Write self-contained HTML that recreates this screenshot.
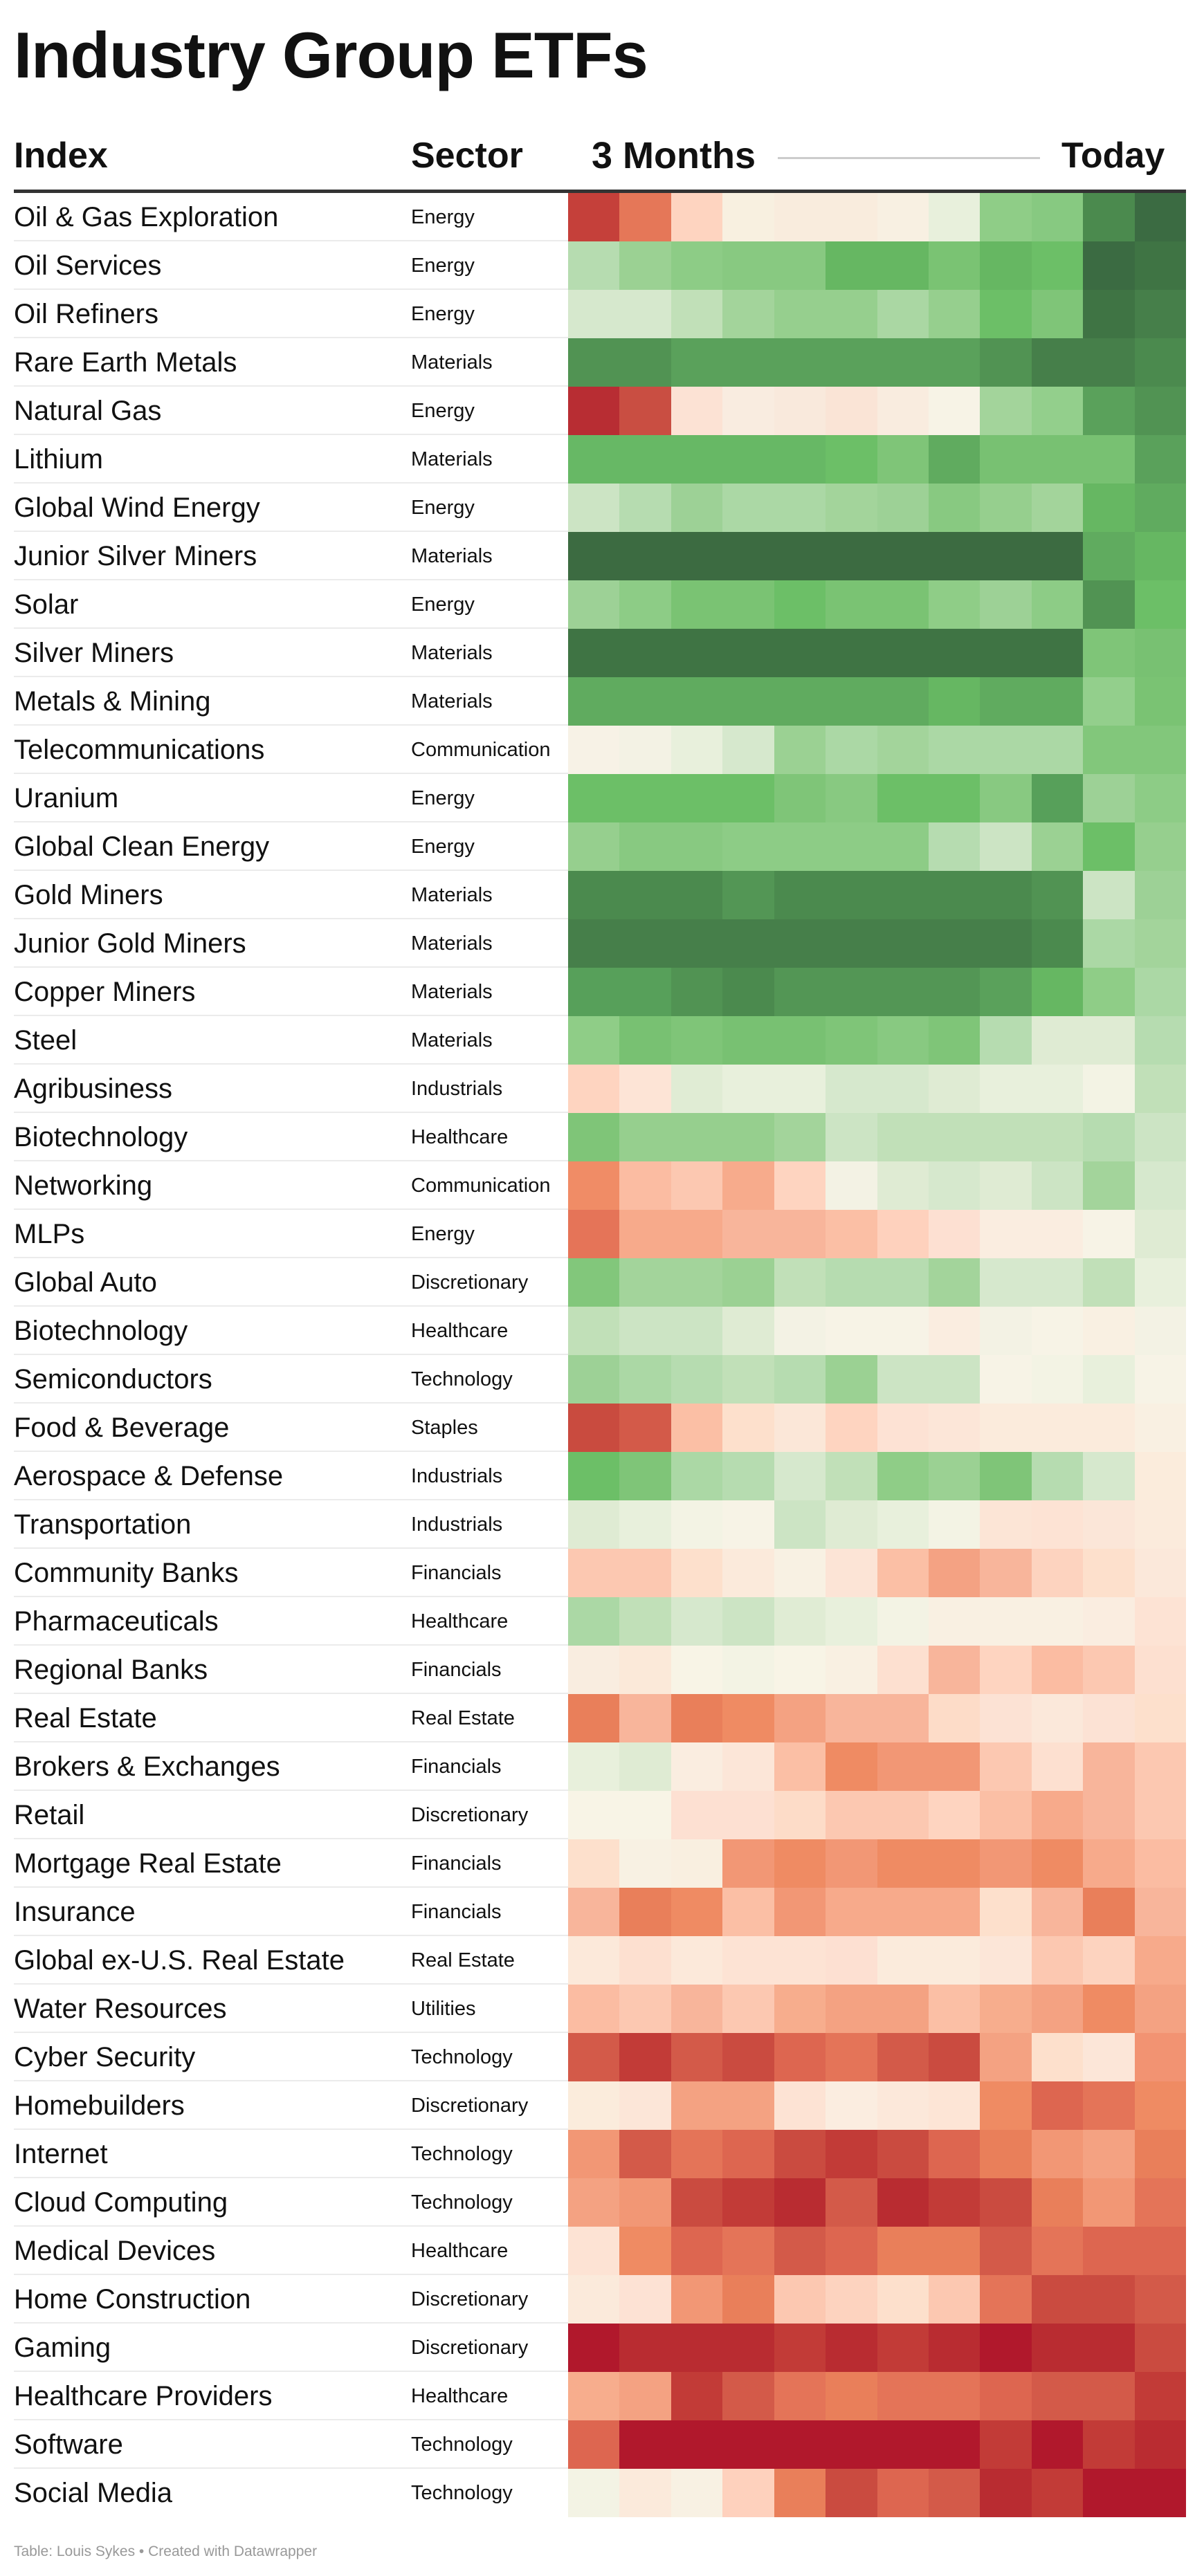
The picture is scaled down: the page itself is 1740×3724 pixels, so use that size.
<!DOCTYPE html>
<html><head><meta charset="utf-8">
<style>
*{margin:0;padding:0;box-sizing:border-box}
body{width:1740px;height:3724px;background:#fff;position:relative;overflow:hidden;font-family:"Liberation Sans",Arial,sans-serif;color:#111}
.t{position:absolute;left:20px;top:20px;font-size:94px;font-weight:bold;line-height:120px;letter-spacing:-1px}
.hd{position:absolute;top:190px;font-size:52px;font-weight:bold;line-height:70px}
.hl{position:absolute;left:1124px;top:227px;width:379px;height:3px;background:#cccccc}
.tl{position:absolute;left:20px;top:274px;width:1694px;height:5px;background:#333}
.r{position:absolute;left:0;width:1740px;height:70px}
.r .n{position:absolute;left:20px;top:0;width:801px;height:70px;line-height:70px;font-size:40px;border-bottom:2px solid #ebebeb}
.r .s{position:absolute;left:594px;top:0;line-height:70px;font-size:29px}
.r .h{position:absolute;left:821px;top:0;width:893px;height:70px;display:flex}
.r .h i{flex:1;height:70px;display:block}
.f{position:absolute;left:20px;top:3677px;font-size:21px;color:#999}
</style></head><body>
<div class="t">Industry Group ETFs</div>
<div class="hd" style="left:20px">Index</div>
<div class="hd" style="left:594px">Sector</div>
<div class="hd" style="left:855px;font-size:54px">3 Months</div>
<div class="hl"></div>
<div class="hd" style="left:1534px">Today</div>
<div class="tl"></div>

<div class="r" style="top:279px"><div class="n">Oil &amp; Gas Exploration</div><div class="s">Energy</div><div class="h"><i style="background:#c5403a"></i><i style="background:#e57758"></i><i style="background:#fed4c0"></i><i style="background:#f8f0e0"></i><i style="background:#f9ecdd"></i><i style="background:#f9ecdd"></i><i style="background:#f8f0e2"></i><i style="background:#e8f0dc"></i><i style="background:#8fcd87"></i><i style="background:#87c981"></i><i style="background:#4b8a4e"></i><i style="background:#3b6b42"></i></div></div>
<div class="r" style="top:349px"><div class="n">Oil Services</div><div class="s">Energy</div><div class="h"><i style="background:#b6dcb0"></i><i style="background:#9bd193"></i><i style="background:#8dcc86"></i><i style="background:#88c981"></i><i style="background:#88c981"></i><i style="background:#66b762"></i><i style="background:#66b762"></i><i style="background:#7ac373"></i><i style="background:#66b762"></i><i style="background:#6cbf67"></i><i style="background:#3b6b42"></i><i style="background:#3f7444"></i></div></div>
<div class="r" style="top:419px"><div class="n">Oil Refiners</div><div class="s">Energy</div><div class="h"><i style="background:#d6e8cd"></i><i style="background:#d6e8cd"></i><i style="background:#c1e0b8"></i><i style="background:#a3d49b"></i><i style="background:#96cf8e"></i><i style="background:#96cf8e"></i><i style="background:#aad7a3"></i><i style="background:#96cf8e"></i><i style="background:#6cbf67"></i><i style="background:#7fc578"></i><i style="background:#3f7444"></i><i style="background:#467f4a"></i></div></div>
<div class="r" style="top:489px"><div class="n">Rare Earth Metals</div><div class="s">Materials</div><div class="h"><i style="background:#519353"></i><i style="background:#519353"></i><i style="background:#5aa15b"></i><i style="background:#5aa15b"></i><i style="background:#5aa15b"></i><i style="background:#5aa15b"></i><i style="background:#5aa15b"></i><i style="background:#5aa15b"></i><i style="background:#519353"></i><i style="background:#467f4a"></i><i style="background:#467f4a"></i><i style="background:#4b8a4e"></i></div></div>
<div class="r" style="top:559px"><div class="n">Natural Gas</div><div class="s">Energy</div><div class="h"><i style="background:#b82d33"></i><i style="background:#c94e42"></i><i style="background:#fce2d4"></i><i style="background:#f9ece0"></i><i style="background:#f9e9dc"></i><i style="background:#fae4d6"></i><i style="background:#f9ecdf"></i><i style="background:#f7f3e6"></i><i style="background:#a3d49b"></i><i style="background:#93cf8c"></i><i style="background:#5aa15b"></i><i style="background:#519353"></i></div></div>
<div class="r" style="top:629px"><div class="n">Lithium</div><div class="s">Materials</div><div class="h"><i style="background:#67b865"></i><i style="background:#67b865"></i><i style="background:#67b865"></i><i style="background:#67b865"></i><i style="background:#67b865"></i><i style="background:#6cbf67"></i><i style="background:#7fc578"></i><i style="background:#60ab5f"></i><i style="background:#78c172"></i><i style="background:#78c172"></i><i style="background:#78c172"></i><i style="background:#5aa15b"></i></div></div>
<div class="r" style="top:699px"><div class="n">Global Wind Energy</div><div class="s">Energy</div><div class="h"><i style="background:#cce4c4"></i><i style="background:#b6dcb0"></i><i style="background:#9dd196"></i><i style="background:#abd8a5"></i><i style="background:#abd8a5"></i><i style="background:#a3d49b"></i><i style="background:#9dd196"></i><i style="background:#88c981"></i><i style="background:#96cf8e"></i><i style="background:#a3d49b"></i><i style="background:#66b762"></i><i style="background:#60ab5f"></i></div></div>
<div class="r" style="top:769px"><div class="n">Junior Silver Miners</div><div class="s">Materials</div><div class="h"><i style="background:#3c6b41"></i><i style="background:#3c6b41"></i><i style="background:#3c6b41"></i><i style="background:#3c6b41"></i><i style="background:#3c6b41"></i><i style="background:#3c6b41"></i><i style="background:#3c6b41"></i><i style="background:#3c6b41"></i><i style="background:#3c6b41"></i><i style="background:#3c6b41"></i><i style="background:#60ab5f"></i><i style="background:#66b762"></i></div></div>
<div class="r" style="top:839px"><div class="n">Solar</div><div class="s">Energy</div><div class="h"><i style="background:#9dd196"></i><i style="background:#8dcc86"></i><i style="background:#7ac373"></i><i style="background:#7ac373"></i><i style="background:#6cbf67"></i><i style="background:#7ac373"></i><i style="background:#7ac373"></i><i style="background:#8fcd87"></i><i style="background:#9dd196"></i><i style="background:#8dcc86"></i><i style="background:#519353"></i><i style="background:#6cbf67"></i></div></div>
<div class="r" style="top:909px"><div class="n">Silver Miners</div><div class="s">Materials</div><div class="h"><i style="background:#3f7444"></i><i style="background:#3f7444"></i><i style="background:#3f7444"></i><i style="background:#3f7444"></i><i style="background:#3f7444"></i><i style="background:#3f7444"></i><i style="background:#3f7444"></i><i style="background:#3f7444"></i><i style="background:#3f7444"></i><i style="background:#3f7444"></i><i style="background:#7fc578"></i><i style="background:#78c172"></i></div></div>
<div class="r" style="top:979px"><div class="n">Metals &amp; Mining</div><div class="s">Materials</div><div class="h"><i style="background:#60ab5f"></i><i style="background:#60ab5f"></i><i style="background:#60ab5f"></i><i style="background:#60ab5f"></i><i style="background:#60ab5f"></i><i style="background:#60ab5f"></i><i style="background:#60ab5f"></i><i style="background:#66b762"></i><i style="background:#60ab5f"></i><i style="background:#60ab5f"></i><i style="background:#93cf8c"></i><i style="background:#7ac373"></i></div></div>
<div class="r" style="top:1049px"><div class="n">Telecommunications</div><div class="s">Communication</div><div class="h"><i style="background:#f7f2e6"></i><i style="background:#f3f2e4"></i><i style="background:#e8f0dc"></i><i style="background:#d6e8cd"></i><i style="background:#9bd193"></i><i style="background:#abd8a5"></i><i style="background:#a3d49b"></i><i style="background:#abd8a5"></i><i style="background:#abd8a5"></i><i style="background:#abd8a5"></i><i style="background:#82c77b"></i><i style="background:#82c77b"></i></div></div>
<div class="r" style="top:1119px"><div class="n">Uranium</div><div class="s">Energy</div><div class="h"><i style="background:#6cbf67"></i><i style="background:#6cbf67"></i><i style="background:#6cbf67"></i><i style="background:#6cbf67"></i><i style="background:#7fc578"></i><i style="background:#88c981"></i><i style="background:#6cbf67"></i><i style="background:#6cbf67"></i><i style="background:#88c981"></i><i style="background:#57a05a"></i><i style="background:#9dd196"></i><i style="background:#8dcc86"></i></div></div>
<div class="r" style="top:1189px"><div class="n">Global Clean Energy</div><div class="s">Energy</div><div class="h"><i style="background:#96cf8e"></i><i style="background:#88c981"></i><i style="background:#88c981"></i><i style="background:#8dcc86"></i><i style="background:#8dcc86"></i><i style="background:#8dcc86"></i><i style="background:#8dcc86"></i><i style="background:#b6dcb0"></i><i style="background:#cce4c4"></i><i style="background:#9bd193"></i><i style="background:#6cbf67"></i><i style="background:#96cf8e"></i></div></div>
<div class="r" style="top:1259px"><div class="n">Gold Miners</div><div class="s">Materials</div><div class="h"><i style="background:#4b8a4e"></i><i style="background:#4b8a4e"></i><i style="background:#4b8a4e"></i><i style="background:#539655"></i><i style="background:#4b8a4e"></i><i style="background:#4b8a4e"></i><i style="background:#4b8a4e"></i><i style="background:#4b8a4e"></i><i style="background:#4b8a4e"></i><i style="background:#519353"></i><i style="background:#cce4c4"></i><i style="background:#9dd196"></i></div></div>
<div class="r" style="top:1329px"><div class="n">Junior Gold Miners</div><div class="s">Materials</div><div class="h"><i style="background:#467f4a"></i><i style="background:#467f4a"></i><i style="background:#467f4a"></i><i style="background:#467f4a"></i><i style="background:#467f4a"></i><i style="background:#467f4a"></i><i style="background:#467f4a"></i><i style="background:#467f4a"></i><i style="background:#467f4a"></i><i style="background:#4b8a4e"></i><i style="background:#abd8a5"></i><i style="background:#a3d49b"></i></div></div>
<div class="r" style="top:1399px"><div class="n">Copper Miners</div><div class="s">Materials</div><div class="h"><i style="background:#57a05a"></i><i style="background:#57a05a"></i><i style="background:#519353"></i><i style="background:#4b8a4e"></i><i style="background:#539655"></i><i style="background:#539655"></i><i style="background:#539655"></i><i style="background:#539655"></i><i style="background:#5aa15b"></i><i style="background:#66b762"></i><i style="background:#8fcd87"></i><i style="background:#abd8a5"></i></div></div>
<div class="r" style="top:1469px"><div class="n">Steel</div><div class="s">Materials</div><div class="h"><i style="background:#8fcd87"></i><i style="background:#78c172"></i><i style="background:#7fc578"></i><i style="background:#78c172"></i><i style="background:#78c172"></i><i style="background:#7fc578"></i><i style="background:#88c981"></i><i style="background:#7fc578"></i><i style="background:#b6dcb0"></i><i style="background:#dfebd3"></i><i style="background:#dfebd3"></i><i style="background:#b6dcb0"></i></div></div>
<div class="r" style="top:1539px"><div class="n">Agribusiness</div><div class="s">Industrials</div><div class="h"><i style="background:#fed4c0"></i><i style="background:#fde4d6"></i><i style="background:#e0ecd4"></i><i style="background:#e8f0dc"></i><i style="background:#e8f0dc"></i><i style="background:#d6e8cd"></i><i style="background:#d6e8cd"></i><i style="background:#dfebd3"></i><i style="background:#e8f0dc"></i><i style="background:#e8f0dc"></i><i style="background:#f3f3e4"></i><i style="background:#c1e0b8"></i></div></div>
<div class="r" style="top:1609px"><div class="n">Biotechnology</div><div class="s">Healthcare</div><div class="h"><i style="background:#7fc578"></i><i style="background:#96cf8e"></i><i style="background:#96cf8e"></i><i style="background:#96cf8e"></i><i style="background:#a3d49b"></i><i style="background:#cce4c4"></i><i style="background:#c1e0b8"></i><i style="background:#c1e0b8"></i><i style="background:#c1e0b8"></i><i style="background:#c1e0b8"></i><i style="background:#b6dcb0"></i><i style="background:#cce4c4"></i></div></div>
<div class="r" style="top:1679px"><div class="n">Networking</div><div class="s">Communication</div><div class="h"><i style="background:#f08c66"></i><i style="background:#fbbca2"></i><i style="background:#fcc8b1"></i><i style="background:#f7ab8c"></i><i style="background:#fed4c0"></i><i style="background:#f3f2e4"></i><i style="background:#dfebd3"></i><i style="background:#d6e8cd"></i><i style="background:#dfebd3"></i><i style="background:#cce4c4"></i><i style="background:#a3d49b"></i><i style="background:#d6e8cd"></i></div></div>
<div class="r" style="top:1749px"><div class="n">MLPs</div><div class="s">Energy</div><div class="h"><i style="background:#e57458"></i><i style="background:#f7aa8b"></i><i style="background:#f7aa8b"></i><i style="background:#f8b59b"></i><i style="background:#f8b59b"></i><i style="background:#fbbfa5"></i><i style="background:#fed1bd"></i><i style="background:#fde0d2"></i><i style="background:#faede0"></i><i style="background:#faede0"></i><i style="background:#f7f3e6"></i><i style="background:#dfebd3"></i></div></div>
<div class="r" style="top:1819px"><div class="n">Global Auto</div><div class="s">Discretionary</div><div class="h"><i style="background:#82c77b"></i><i style="background:#a3d49b"></i><i style="background:#a3d49b"></i><i style="background:#9bd193"></i><i style="background:#c1e0b8"></i><i style="background:#b6dcb0"></i><i style="background:#b6dcb0"></i><i style="background:#a3d49b"></i><i style="background:#d6e8cd"></i><i style="background:#d6e8cd"></i><i style="background:#c1e0b8"></i><i style="background:#e8f0dc"></i></div></div>
<div class="r" style="top:1889px"><div class="n">Biotechnology</div><div class="s">Healthcare</div><div class="h"><i style="background:#c1e0b8"></i><i style="background:#cce4c4"></i><i style="background:#cce4c4"></i><i style="background:#dfebd3"></i><i style="background:#f3f2e4"></i><i style="background:#f7f3e6"></i><i style="background:#f7f3e6"></i><i style="background:#faede0"></i><i style="background:#f3f2e4"></i><i style="background:#f7f3e6"></i><i style="background:#f9f0e2"></i><i style="background:#f3f2e4"></i></div></div>
<div class="r" style="top:1959px"><div class="n">Semiconductors</div><div class="s">Technology</div><div class="h"><i style="background:#9dd196"></i><i style="background:#abd8a5"></i><i style="background:#b6dcb0"></i><i style="background:#c1e0b8"></i><i style="background:#b6dcb0"></i><i style="background:#9bd193"></i><i style="background:#cce4c4"></i><i style="background:#cce4c4"></i><i style="background:#f7f3e6"></i><i style="background:#f3f3e4"></i><i style="background:#e8f0dc"></i><i style="background:#f7f3e6"></i></div></div>
<div class="r" style="top:2029px"><div class="n">Food &amp; Beverage</div><div class="s">Staples</div><div class="h"><i style="background:#c94b3f"></i><i style="background:#d35a49"></i><i style="background:#fbbfa5"></i><i style="background:#fde0cc"></i><i style="background:#fbe7d8"></i><i style="background:#fed4c0"></i><i style="background:#fde2d4"></i><i style="background:#fce6d8"></i><i style="background:#fbebdc"></i><i style="background:#fbebdc"></i><i style="background:#fbebdc"></i><i style="background:#f9f0e2"></i></div></div>
<div class="r" style="top:2099px"><div class="n">Aerospace &amp; Defense</div><div class="s">Industrials</div><div class="h"><i style="background:#6cbf67"></i><i style="background:#7fc578"></i><i style="background:#abd8a5"></i><i style="background:#b6dcb0"></i><i style="background:#d6e8cd"></i><i style="background:#c1e0b8"></i><i style="background:#8fcd87"></i><i style="background:#9bd193"></i><i style="background:#7fc578"></i><i style="background:#b6dcb0"></i><i style="background:#d6e8cd"></i><i style="background:#fbecdc"></i></div></div>
<div class="r" style="top:2169px"><div class="n">Transportation</div><div class="s">Industrials</div><div class="h"><i style="background:#dfebd3"></i><i style="background:#e8f0dc"></i><i style="background:#f3f3e4"></i><i style="background:#f7f3e6"></i><i style="background:#cce4c4"></i><i style="background:#dfebd3"></i><i style="background:#e8f0dc"></i><i style="background:#f3f3e4"></i><i style="background:#fce5d6"></i><i style="background:#fde3d4"></i><i style="background:#fbe6d8"></i><i style="background:#fbebdc"></i></div></div>
<div class="r" style="top:2239px"><div class="n">Community Banks</div><div class="s">Financials</div><div class="h"><i style="background:#fcc8b1"></i><i style="background:#fcc8b1"></i><i style="background:#fde0cc"></i><i style="background:#fbeadb"></i><i style="background:#f8f1e3"></i><i style="background:#fce4d6"></i><i style="background:#fbbfa5"></i><i style="background:#f4a283"></i><i style="background:#f8b59b"></i><i style="background:#fdd3bf"></i><i style="background:#fde0cc"></i><i style="background:#fbe8da"></i></div></div>
<div class="r" style="top:2309px"><div class="n">Pharmaceuticals</div><div class="s">Healthcare</div><div class="h"><i style="background:#abd8a5"></i><i style="background:#c1e0b8"></i><i style="background:#d6e8cd"></i><i style="background:#cce4c4"></i><i style="background:#e0ecd4"></i><i style="background:#e8f0dc"></i><i style="background:#f3f3e4"></i><i style="background:#f9f0e2"></i><i style="background:#f9f0e2"></i><i style="background:#f9f0e2"></i><i style="background:#faede0"></i><i style="background:#fde3d4"></i></div></div>
<div class="r" style="top:2379px"><div class="n">Regional Banks</div><div class="s">Financials</div><div class="h"><i style="background:#f9ede0"></i><i style="background:#fbe9d9"></i><i style="background:#f8f4e6"></i><i style="background:#f3f3e4"></i><i style="background:#f8f4e6"></i><i style="background:#f9f0e2"></i><i style="background:#fde0d0"></i><i style="background:#f8b59b"></i><i style="background:#fed4c0"></i><i style="background:#fbbca2"></i><i style="background:#fcc8b1"></i><i style="background:#fde0d0"></i></div></div>
<div class="r" style="top:2449px"><div class="n">Real Estate</div><div class="s">Real Estate</div><div class="h"><i style="background:#e97f5a"></i><i style="background:#f8b59b"></i><i style="background:#e97f5a"></i><i style="background:#ef8b63"></i><i style="background:#f4a282"></i><i style="background:#f8b59b"></i><i style="background:#f8b59b"></i><i style="background:#fddcc8"></i><i style="background:#fce2d4"></i><i style="background:#fbe8da"></i><i style="background:#fce2d4"></i><i style="background:#fde0cc"></i></div></div>
<div class="r" style="top:2519px"><div class="n">Brokers &amp; Exchanges</div><div class="s">Financials</div><div class="h"><i style="background:#e8f0dc"></i><i style="background:#dfebd3"></i><i style="background:#faede0"></i><i style="background:#fce6d8"></i><i style="background:#fbbfa5"></i><i style="background:#ef8b63"></i><i style="background:#f29775"></i><i style="background:#f29775"></i><i style="background:#fcc8b1"></i><i style="background:#fde0d0"></i><i style="background:#f8b59b"></i><i style="background:#fcc8b1"></i></div></div>
<div class="r" style="top:2589px"><div class="n">Retail</div><div class="s">Discretionary</div><div class="h"><i style="background:#f8f4e6"></i><i style="background:#f8f4e6"></i><i style="background:#fde0d2"></i><i style="background:#fde0d2"></i><i style="background:#fddcc8"></i><i style="background:#fcc8b1"></i><i style="background:#fcc8b1"></i><i style="background:#fed4c0"></i><i style="background:#fbbfa5"></i><i style="background:#f7aa8b"></i><i style="background:#f8b59b"></i><i style="background:#fcc8b1"></i></div></div>
<div class="r" style="top:2659px"><div class="n">Mortgage Real Estate</div><div class="s">Financials</div><div class="h"><i style="background:#fde0cc"></i><i style="background:#f8f1e3"></i><i style="background:#f9efe0"></i><i style="background:#f29775"></i><i style="background:#ef8b63"></i><i style="background:#f29775"></i><i style="background:#ef8b63"></i><i style="background:#ef8b63"></i><i style="background:#f29775"></i><i style="background:#ef8b63"></i><i style="background:#f7aa8b"></i><i style="background:#fbbca2"></i></div></div>
<div class="r" style="top:2729px"><div class="n">Insurance</div><div class="s">Financials</div><div class="h"><i style="background:#f8b59b"></i><i style="background:#e97f5a"></i><i style="background:#ef8b63"></i><i style="background:#fbbfa5"></i><i style="background:#f29775"></i><i style="background:#f7aa8b"></i><i style="background:#f7aa8b"></i><i style="background:#f7aa8b"></i><i style="background:#fde0cc"></i><i style="background:#f8b59b"></i><i style="background:#e97f5a"></i><i style="background:#f8b59b"></i></div></div>
<div class="r" style="top:2799px"><div class="n">Global ex-U.S. Real Estate</div><div class="s">Real Estate</div><div class="h"><i style="background:#fce9da"></i><i style="background:#fde0d0"></i><i style="background:#fce9da"></i><i style="background:#fde3d4"></i><i style="background:#fde3d4"></i><i style="background:#fde0d2"></i><i style="background:#fbebdc"></i><i style="background:#fbebdc"></i><i style="background:#fce6d8"></i><i style="background:#fcc8b1"></i><i style="background:#fdd3bf"></i><i style="background:#f7aa8b"></i></div></div>
<div class="r" style="top:2869px"><div class="n">Water Resources</div><div class="s">Utilities</div><div class="h"><i style="background:#fbbca2"></i><i style="background:#fcc8b1"></i><i style="background:#f8b59b"></i><i style="background:#fcc8b1"></i><i style="background:#f7ad8d"></i><i style="background:#f4a282"></i><i style="background:#f4a282"></i><i style="background:#fbbfa5"></i><i style="background:#f7ad8d"></i><i style="background:#f4a282"></i><i style="background:#ef8b63"></i><i style="background:#f4a282"></i></div></div>
<div class="r" style="top:2939px"><div class="n">Cyber Security</div><div class="s">Technology</div><div class="h"><i style="background:#d35a49"></i><i style="background:#c23b37"></i><i style="background:#d35a49"></i><i style="background:#ca4b40"></i><i style="background:#dd6650"></i><i style="background:#e47458"></i><i style="background:#d35a49"></i><i style="background:#ca4b40"></i><i style="background:#f4a282"></i><i style="background:#fde0cc"></i><i style="background:#fce6d8"></i><i style="background:#f29372"></i></div></div>
<div class="r" style="top:3009px"><div class="n">Homebuilders</div><div class="s">Discretionary</div><div class="h"><i style="background:#fbecdc"></i><i style="background:#fce6d8"></i><i style="background:#f4a282"></i><i style="background:#f4a282"></i><i style="background:#fde3d4"></i><i style="background:#fbede0"></i><i style="background:#fce8da"></i><i style="background:#fde5d6"></i><i style="background:#ef8b63"></i><i style="background:#dd6650"></i><i style="background:#e47458"></i><i style="background:#ef8b63"></i></div></div>
<div class="r" style="top:3079px"><div class="n">Internet</div><div class="s">Technology</div><div class="h"><i style="background:#f29775"></i><i style="background:#d35a49"></i><i style="background:#e47458"></i><i style="background:#dd6650"></i><i style="background:#ca4b40"></i><i style="background:#c23b37"></i><i style="background:#ca4b40"></i><i style="background:#dd6650"></i><i style="background:#e97f5a"></i><i style="background:#f29775"></i><i style="background:#f4a282"></i><i style="background:#e97f5a"></i></div></div>
<div class="r" style="top:3149px"><div class="n">Cloud Computing</div><div class="s">Technology</div><div class="h"><i style="background:#f4a282"></i><i style="background:#f29775"></i><i style="background:#ca4b40"></i><i style="background:#c23b37"></i><i style="background:#b92c31"></i><i style="background:#d35a49"></i><i style="background:#b92c31"></i><i style="background:#c23b37"></i><i style="background:#ca4b40"></i><i style="background:#e97f5a"></i><i style="background:#f29775"></i><i style="background:#e47458"></i></div></div>
<div class="r" style="top:3219px"><div class="n">Medical Devices</div><div class="s">Healthcare</div><div class="h"><i style="background:#fde3d4"></i><i style="background:#ef8b63"></i><i style="background:#dd6650"></i><i style="background:#e47458"></i><i style="background:#d35a49"></i><i style="background:#dd6650"></i><i style="background:#e97f5a"></i><i style="background:#e97f5a"></i><i style="background:#d35a49"></i><i style="background:#e47458"></i><i style="background:#dd6650"></i><i style="background:#dd6650"></i></div></div>
<div class="r" style="top:3289px"><div class="n">Home Construction</div><div class="s">Discretionary</div><div class="h"><i style="background:#fbeadb"></i><i style="background:#fde2d4"></i><i style="background:#f29775"></i><i style="background:#e97f5a"></i><i style="background:#fcc8b1"></i><i style="background:#fdd3bf"></i><i style="background:#fde0cc"></i><i style="background:#fcc8b1"></i><i style="background:#e47458"></i><i style="background:#ca4b40"></i><i style="background:#ca4b40"></i><i style="background:#d35a49"></i></div></div>
<div class="r" style="top:3359px"><div class="n">Gaming</div><div class="s">Discretionary</div><div class="h"><i style="background:#b1182c"></i><i style="background:#b92c31"></i><i style="background:#b92c31"></i><i style="background:#b92c31"></i><i style="background:#c23b37"></i><i style="background:#b92c31"></i><i style="background:#c23b37"></i><i style="background:#b92c31"></i><i style="background:#b1182c"></i><i style="background:#b92c31"></i><i style="background:#b92c31"></i><i style="background:#ca4b40"></i></div></div>
<div class="r" style="top:3429px"><div class="n">Healthcare Providers</div><div class="s">Healthcare</div><div class="h"><i style="background:#f7ad8d"></i><i style="background:#f4a282"></i><i style="background:#c23b37"></i><i style="background:#d35a49"></i><i style="background:#e47458"></i><i style="background:#e97f5a"></i><i style="background:#e47458"></i><i style="background:#e47458"></i><i style="background:#dd6650"></i><i style="background:#d35a49"></i><i style="background:#d35a49"></i><i style="background:#c23b37"></i></div></div>
<div class="r" style="top:3499px"><div class="n">Software</div><div class="s">Technology</div><div class="h"><i style="background:#dd6650"></i><i style="background:#b1182c"></i><i style="background:#b1182c"></i><i style="background:#b1182c"></i><i style="background:#b1182c"></i><i style="background:#b1182c"></i><i style="background:#b1182c"></i><i style="background:#b1182c"></i><i style="background:#c23b37"></i><i style="background:#b1182c"></i><i style="background:#c23b37"></i><i style="background:#ba2c31"></i></div></div>
<div class="r" style="top:3569px"><div class="n" style="border-bottom:none">Social Media</div><div class="s">Technology</div><div class="h"><i style="background:#f3f3e4"></i><i style="background:#fbeadb"></i><i style="background:#f8f1e3"></i><i style="background:#fed1bd"></i><i style="background:#e97f5a"></i><i style="background:#ca4b40"></i><i style="background:#dd6650"></i><i style="background:#d35a49"></i><i style="background:#b92c31"></i><i style="background:#c23b37"></i><i style="background:#b1182c"></i><i style="background:#b1182c"></i></div></div>

<div class="f">Table: Louis Sykes • Created with Datawrapper</div>
</body></html>
